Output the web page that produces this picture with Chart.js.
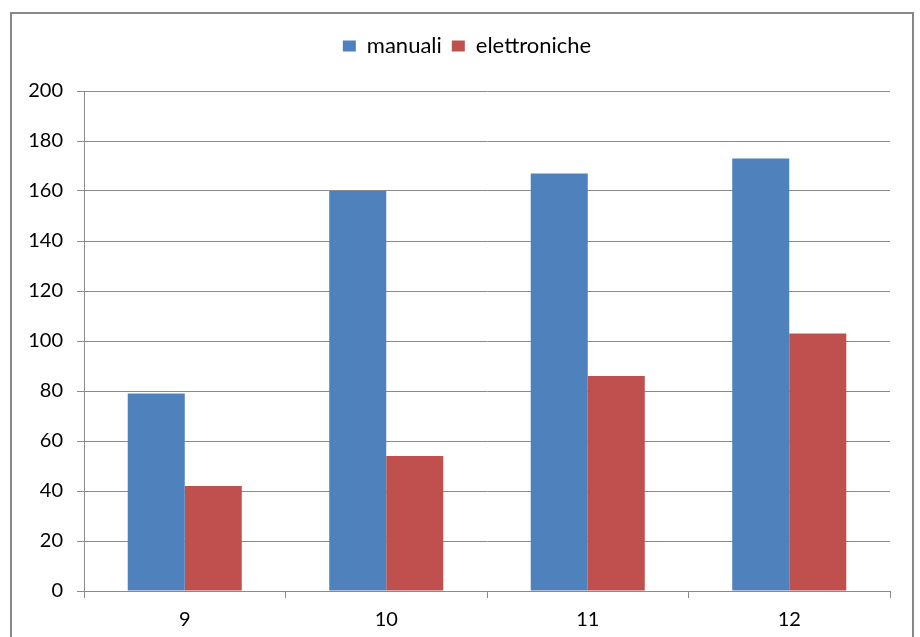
<!DOCTYPE html>
<html>
<head>
<meta charset="utf-8">
<script src="https://cdn.jsdelivr.net/npm/chart.js@4"></script>
<style>
  html, body { margin: 0; padding: 0; background: #fff; }
  #wrap { position: relative; width: 920px; height: 637px; overflow: hidden; }
  #frame { position: absolute; left: 10px; top: 12px; width: 900px; height: 700px; border: 2px solid #878787; }
  #c { position: absolute; left: 0; top: 0; }
</style>
</head>
<body>
<div id="wrap">
  <div id="frame"></div>
  <canvas id="c" width="920" height="637"></canvas>
</div>
<script>
// dati del grafico
const categorie = ['9', '10', '11', '12'];
const manuali = [79, 160, 167, 173];
const elettroniche = [42, 54, 86, 103];
const yMin = 0, yMax = 200, yStep = 20;

const FONT = 'Lato, "Open Sans", sans-serif';
const GRIGIO = '#8a8a8a';

// allunga il box della legenda e lo sposta un po' a destra (come nell'originale)
const legendaPlugin = {
  id: 'legendaPlugin',
  beforeInit(chart) {
    const leg = chart.legend;
    if (leg && !leg._patched) {
      const orig = leg.fit;
      leg.fit = function () { orig.call(this); this.height += 24; };
      leg._patched = true;
    }
  },
  afterLayout(chart) {
    const leg = chart.legend;
    if (leg) { leg.left += 22; leg.right += 22; }
  }
};

const ctx = document.getElementById('c').getContext('2d');
window.grafico = new Chart(ctx, {
  type: 'bar',
  data: {
    labels: categorie,
    datasets: [
      { label: 'manuali', data: manuali, backgroundColor: '#4F81BD' },
      { label: 'elettroniche', data: elettroniche, backgroundColor: '#C0504D' }
    ]
  },
  plugins: [legendaPlugin],
  options: {
    responsive: false,
    animation: false,
    layout: { padding: { left: 0, right: 30, top: 25, bottom: 0 } },
    datasets: { bar: { categoryPercentage: 0.566, barPercentage: 1.0 } },
    plugins: {
      legend: {
        position: 'top',
        labels: {
          font: { family: FONT, size: 22 },
          color: '#000',
          boxWidth: 13,
          boxHeight: 11,
          padding: 10
        }
      },
      tooltip: { enabled: false }
    },
    scales: {
      x: {
        afterFit: (s) => { s.height = 46; },
        grid: { display: true, drawOnChartArea: false, drawTicks: true, tickLength: 7, offset: true, color: GRIGIO },
        border: { display: true, color: GRIGIO },
        ticks: { font: { family: FONT, size: 20 }, color: '#000', padding: 10 }
      },
      y: {
        min: yMin,
        max: yMax,
        afterFit: (s) => { s.width = 84; },
        grid: { color: GRIGIO, tickLength: 7, drawTicks: true },
        border: { display: true, color: GRIGIO },
        ticks: { stepSize: yStep, font: { family: FONT, size: 20 }, color: '#000', padding: 14 }
      }
    }
  }
});
</script>
</body>
</html>
